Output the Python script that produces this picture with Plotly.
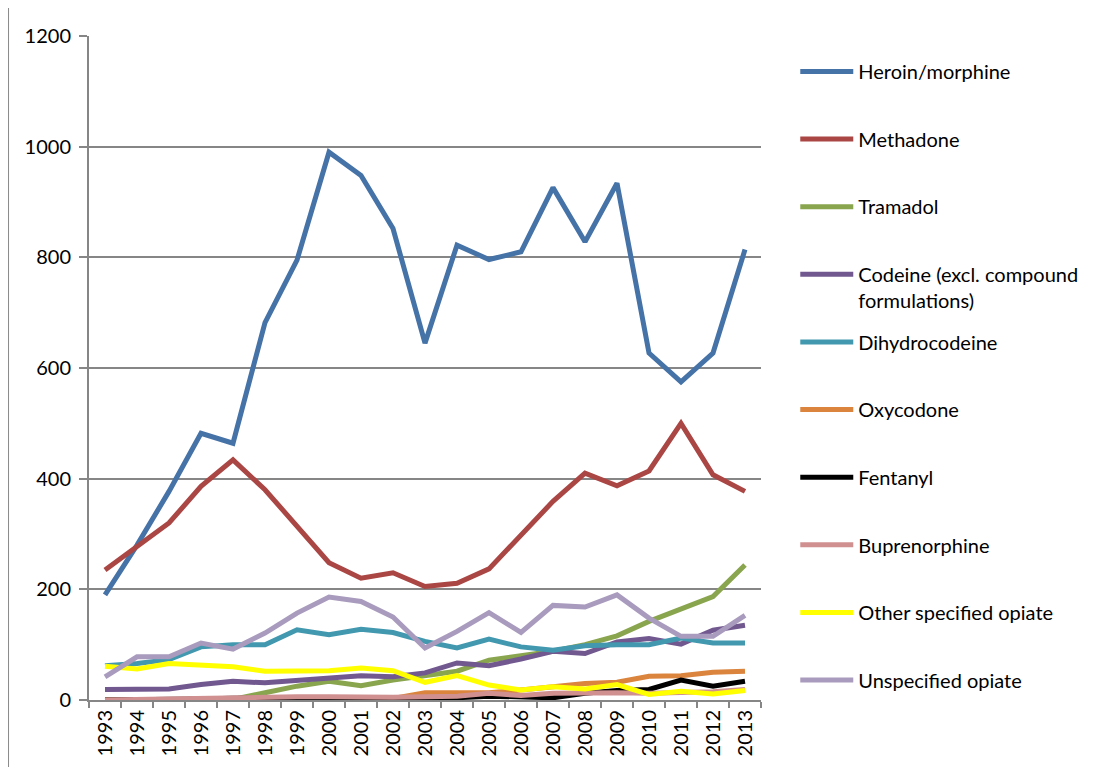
import plotly.graph_objects as go

years = [str(y) for y in range(1993, 2014)]

heroin_morphine = [190, 280, 377, 482, 464, 682, 795, 990, 948, 852, 645,
                   822, 796, 810, 926, 828, 934, 627, 575, 627, 814]
methadone = [235, 278, 320, 386, 434, 380, 314, 248, 220, 230, 205,
             211, 237, 299, 359, 410, 387, 414, 500, 407, 377]
tramadol = [0, 0, 0, 0, 1, 13, 25, 34, 26, 36, 43,
            52, 72, 80, 88, 100, 116, 142, 165, 187, 244]
codeine = [19, 19, 20, 28, 34, 31, 36, 39, 44, 42, 49,
           67, 62, 74, 88, 84, 105, 111, 101, 126, 135]
dihydrocodeine = [62, 66, 73, 96, 100, 100, 127, 118, 128, 122, 106,
                  94, 110, 96, 90, 98, 100, 100, 112, 103, 103]
oxycodone = [0, 0, 0, 0, 0, 0, 0, 0, 0, 3, 13,
             13, 13, 18, 24, 30, 32, 43, 44, 50, 52]
fentanyl = [0, 0, 1, 2, 3, 4, 3, 2, 2, 3, 3,
            4, 7, 5, 4, 12, 17, 19, 36, 25, 34]
buprenorphine = [0, 1, 3, 5, 6, 6, 6, 6, 5, 5, 6,
                 7, 12, 8, 12, 13, 13, 12, 13, 15, 19]
other_specified = [61, 56, 66, 62, 60, 52, 52, 53, 58, 53, 32,
                   44, 27, 18, 24, 20, 28, 10, 16, 11, 17]
unspecified = [42, 78, 78, 103, 92, 121, 157, 186, 178, 150, 94,
               124, 158, 122, 171, 168, 190, 148, 115, 115, 153]

series = [
    ("Heroin/morphine", heroin_morphine, "#4572A7", "legend"),
    ("Methadone", methadone, "#AA4643", "legend"),
    ("Tramadol", tramadol, "#89A54E", "legend"),
    ("Codeine (excl. compound<br>formulations)", codeine, "#71588F", "legend"),
    ("Dihydrocodeine", dihydrocodeine, "#4198AF", "legend2"),
    ("Oxycodone", oxycodone, "#DB843D", "legend2"),
    ("Fentanyl", fentanyl, "#000000", "legend2"),
    ("Buprenorphine", buprenorphine, "#D09090", "legend2"),
    ("Other specified opiate", other_specified, "#FFFF00", "legend2"),
    ("Unspecified opiate", unspecified, "#A99BBD", "legend2"),
]

FONT = "Lato, 'Liberation Sans', Arial, sans-serif"
GRID = "#868686"

fig = go.Figure()
for i, (name, vals, color, lg) in enumerate(series):
    fig.add_trace(go.Scatter(
        x=years, y=vals, name=name, mode="lines",
        line=dict(color=color, width=5),
        cliponaxis=False, legend=lg, legendgroup=f"g{i}",
    ))

legend_common = dict(
    xanchor="left", yanchor="top", x=1.051,
    font=dict(family=FONT, size=20, color="#000000"),
    bgcolor="rgba(0,0,0,0)", borderwidth=0,
    itemwidth=53, tracegroupgap=38.6, valign="top",
    traceorder="grouped",
)

fig.update_layout(
    width=1097, height=767,
    margin=dict(l=81, r=344, t=28, b=75),
    paper_bgcolor="white", plot_bgcolor="white",
    font=dict(family=FONT, size=20, color="#000000"),
    showlegend=True,
    legend=dict(y=0.976, **legend_common),
    legend2=dict(y=0.5685, **legend_common),
    xaxis=dict(
        type="category", categoryorder="array", categoryarray=years,
        range=[-0.5, 20.5], tickson="boundaries",
        ticks="outside", ticklen=6, tickwidth=1.5, tickcolor=GRID,
        showline=True, linecolor=GRID, linewidth=2,
        showgrid=False, tickangle=-90,
        tickfont=dict(family=FONT, size=20, color="#000000"),
    ),
    yaxis=dict(
        range=[0, 1200], dtick=200, tick0=0,
        ticks="outside", ticklen=8, tickwidth=1.5, tickcolor=GRID,
        showline=True, linecolor=GRID, linewidth=2,
        showgrid=True, gridcolor=GRID, gridwidth=1.5, zeroline=False,
        tickfont=dict(family=FONT, size=20, color="#000000"),
        ticklabelstandoff=4,
    ),
    shapes=[
        dict(type="line", xref="paper", yref="paper",
             x0=-0.1205, x1=-0.1205, y0=-0.12, y1=1.06,
             line=dict(color="#8C8C8C", width=2)),
        dict(type="line", xref="paper", yref="paper",
             x0=-0.1205, x1=1.52, y0=1.0437, y1=1.0437,
             line=dict(color="#EFEFEF", width=1)),
    ],
)

fig.write_html("out.html")
